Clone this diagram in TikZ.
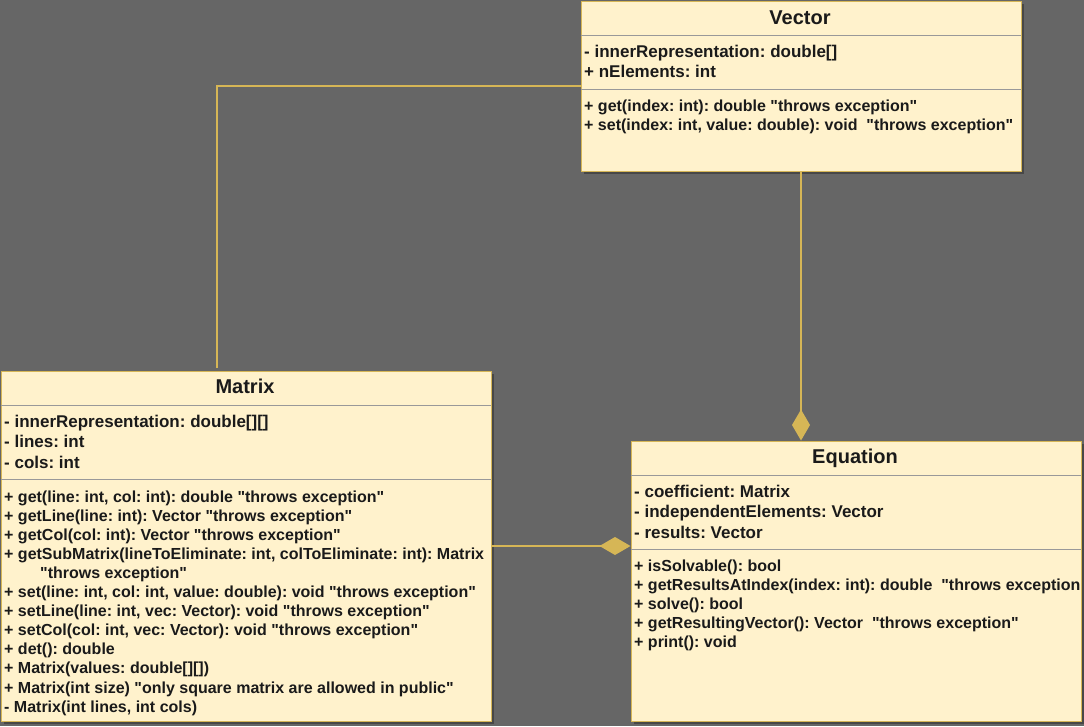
\documentclass[tikz,border=0pt]{standalone}
\usepackage{fontspec}
\setmainfont{Liberation Sans}[Ligatures=TeXOff]
\usetikzlibrary{arrows.meta,positioning,shadows}
\definecolor{bg}{HTML}{666666}
\definecolor{umlfill}{HTML}{FFF2CC}
\definecolor{umlline}{HTML}{D6B656}
\definecolor{sepline}{HTML}{999999}
\definecolor{txt}{HTML}{1A1A1A}
\frenchspacing

\tikzset{
  umlbox/.style={draw=umlline, fill=umlfill, line width=1pt, anchor=north west, inner sep=0pt,
    general shadow={shadow xshift=3pt, shadow yshift=-3pt, fill=black, opacity=0.3}},
  sep/.style={draw=sepline, line width=1pt},
  title/.style={anchor=base, inner sep=0pt, text=txt, font=\bfseries\fontsize{20}{24}\selectfont},
  attr/.style={anchor=base west, inner sep=0pt, text=txt, font=\bfseries\fontsize{17}{20}\selectfont},
  meth/.style={anchor=base west, inner sep=0pt, text=txt, font=\bfseries\fontsize{16}{19}\selectfont},
  link/.style={draw=umlline, line width=2pt},
  owns/.style={link, -{Diamond[length=31pt,width=18pt]}, fill=umlline}
}

\begin{document}
\begin{tikzpicture}[x=1pt, y=-1pt]
  \fill[bg] (0,0) rectangle (1084,726);
  \useasboundingbox (0,0) rectangle (1084,726);

  % class boxes
  \node[umlbox, minimum width=440pt, minimum height=170pt] (vec) at (580.5,0.5) {};
  \node[umlbox, minimum width=490pt, minimum height=350pt] (mat) at (0.5,370.5) {};
  \node[umlbox, minimum width=450pt, minimum height=280pt] (eq) at (630.5,440.5) {};

  % compartments
  \draw[sep] (580.5,35) -- (1020.5,35);
  \draw[sep] (580.5,89) -- (1020.5,89);
  \draw[sep] (0.5,405) -- (490.5,405);
  \draw[sep] (0.5,479) -- (490.5,479);
  \draw[sep] (630.5,475) -- (1080.5,475);
  \draw[sep] (630.5,549) -- (1080.5,549);

  % Vector
  \node[title] (vecT) at (800,24) {Vector};
  \foreach \t [count=\i from 0] in {{- innerRepresentation: double[]}, {+ nElements: int}}
    \node[attr] (vecA\i) at (584,57+20.5*\i) {\t};
  \foreach \t [count=\i from 0] in {{+ get(index: int): double "throws exception"},
      {+ set(index: int, value: double): void~ "throws exception"}}
    \node[meth] (vecM\i) at (584,111+19.2*\i) {\t};

  % Matrix
  \node[title] (matT) at (245,393) {Matrix};
  \foreach \t [count=\i from 0] in {{- innerRepresentation: double[][]}, {- lines: int}, {- cols: int}}
    \node[attr] (matA\i) at (4,427+20.5*\i) {\t};
  \foreach \t [count=\i from 0] in {{+ get(line: int, col: int): double "throws exception"},
      {+ getLine(line: int): Vector "throws exception"},
      {+ getCol(col: int): Vector "throws exception"},
      {+ getSubMatrix(lineToEliminate: int, colToEliminate: int): Matrix},
      {\hspace*{36pt}"throws exception"},
      {+ set(line: int, col: int, value: double): void "throws exception"},
      {+ setLine(line: int, vec: Vector): void "throws exception"},
      {+ setCol(col: int, vec: Vector): void "throws exception"},
      {+ det(): double},
      {+ Matrix(values: double[][])},
      {+ Matrix(int size) "only square matrix are allowed in public"},
      {- Matrix(int lines, int cols)}}
    \node[meth] (matM\i) at (4,502+19.1*\i) {\t};

  % Equation
  \node[title] (eqT) at (855,463) {Equation};
  \foreach \t [count=\i from 0] in {{- coefficient: Matrix}, {- independentElements: Vector}, {- results: Vector}}
    \node[attr] (eqA\i) at (634,497+20.5*\i) {\t};
  \foreach \t [count=\i from 0] in {{+ isSolvable(): bool},
      {+ getResultsAtIndex(index: int): double~ "throws exception},
      {+ solve(): bool},
      {+ getResultingVector(): Vector~ "throws exception"},
      {+ print(): void}}
    \node[meth] (eqM\i) at (634,571+19.2*\i) {\t};

  % relations
  \coordinate (matTop) at (217,368);
  \draw[link] (vec.west) -| (matTop);
  \draw[owns] (vec.south) -- (vec.south |- eq.north);
  \draw[owns] (mat.east) -- (mat.east -| eq.west);
\end{tikzpicture}
\end{document}
